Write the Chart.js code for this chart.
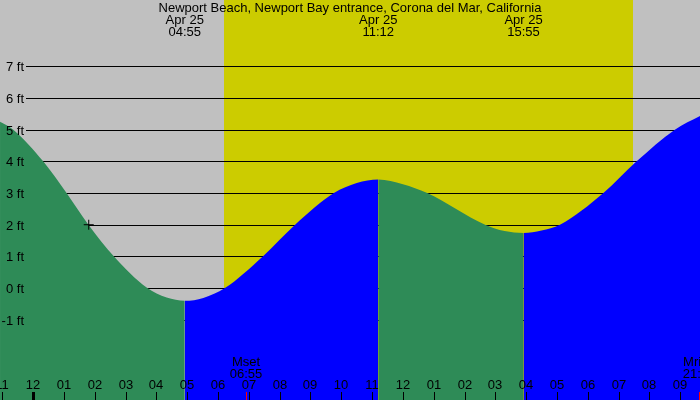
<!DOCTYPE html>
<html lang="en">
<head>
    <meta charset="UTF-8">
    <title>Newport Beach tide</title>
    <style>
        body { margin: 0; background: #c0c0c0; }
        canvas { display: block; }
    </style>
    <script src="https://cdn.jsdelivr.net/npm/chart.js"></script>
</head>
<body>
    <canvas id="tideChart" width="700" height="400"></canvas>

    <script>
        // Tide heights (hours from midnight Apr 25, feet)
        const tideHours = [-1.08, -0.65, 0.32, 1.08, 1.79, 2.62, 3.68, 4.33, 4.917, 5.52, 6.22, 7.45, 8.50, 9.76, 10.5, 11.2, 12.0, 12.79, 14.67, 15.3, 15.917, 16.5, 17.10, 18.51, 19.59, 20.83, 21.65];
        const tideFeet  = [5.25, 5.0, 4.0, 3.0, 2.0, 1.0, 0.02, -0.30, -0.40, -0.31, 0.0, 1.0, 2.0, 3.0, 3.32, 3.43, 3.28, 3.0, 2.0, 1.80, 1.74, 1.82, 2.0, 3.0, 4.0, 5.0, 5.43];

        // High / low labels along the top
        const extremeHours = [4.917, 11.2, 15.917];
        const extremeDates = ['Apr 25', 'Apr 25', 'Apr 25'];
        const extremeTimes = ['04:55', '11:12', '15:55'];

        // daylight band
        const sunrise = 6.19;
        const sunset = 19.47;

        // moon events
        const moonHours = [6.917, 21.617];
        const moonNames = ['Mset', 'Mrise'];
        const moonTimes = ['06:55', '21:37'];

        // current time marker
        const nowHour = 1.8;
        const nowFeet = 2.0;

        // axes
        const feetTicks = [-1, 0, 1, 2, 3, 4, 5, 6, 7];
        const hourTicks = [-1, 0, 1, 2, 3, 4, 5, 6, 7, 8, 9, 10, 11, 12, 13, 14, 15, 16, 17, 18, 19, 20, 21];
        const hourLabels = ['11', '12', '01', '02', '03', '04', '05', '06', '07', '08', '09', '10', '11', '12', '01', '02', '03', '04', '05', '06', '07', '08', '09'];

        const title = 'Newport Beach, Newport Bay entrance, Corona del Mar, California';

        const FONT = '13px "Liberation Sans", Arial, sans-serif';
        const GREEN = '#2e8b57';
        const BLUE = '#0000ff';

        const tidePlugin = {
            id: 'tideDecor',
            beforeDraw(chart) {
                const ctx = chart.ctx;
                const x = chart.scales.x;
                ctx.save();
                ctx.fillStyle = '#c0c0c0';
                ctx.fillRect(0, 0, chart.width, chart.height);
                ctx.fillStyle = '#cccc00';
                const x0 = Math.round(x.getPixelForValue(sunrise));
                const x1 = Math.round(x.getPixelForValue(sunset));
                ctx.fillRect(x0, 0, x1 - x0, chart.height);
                ctx.restore();
            },
            beforeDatasetsDraw(chart) {
                const ctx = chart.ctx;
                const y = chart.scales.y;
                ctx.save();
                ctx.strokeStyle = '#000';
                ctx.lineWidth = 1;
                feetTicks.forEach(v => {
                    const py = Math.round(y.getPixelForValue(v)) + 0.5;
                    ctx.beginPath();
                    ctx.moveTo(26, py);
                    ctx.lineTo(chart.width, py);
                    ctx.stroke();
                });
                ctx.restore();
            },
            afterDatasetsDraw(chart) {
                const ctx = chart.ctx;
                const x = chart.scales.x;
                const y = chart.scales.y;
                ctx.save();
                ctx.font = FONT;
                ctx.fillStyle = '#000';
                ctx.textBaseline = 'middle';

                // y labels
                ctx.textAlign = 'right';
                feetTicks.forEach(v => {
                    ctx.fillText(v + ' ft', 24, Math.round(y.getPixelForValue(v)) + 1);
                });

                // hour labels and ticks
                ctx.textAlign = 'center';
                hourTicks.forEach((h, i) => {
                    const px = Math.round(x.getPixelForValue(h));
                    ctx.fillText(hourLabels[i], px, 385);
                    ctx.fillRect(h === 0 ? px - 1 : px, 392, h === 0 ? 3 : 1, 8);
                });

                // moon events
                moonHours.forEach((h, i) => {
                    const px = Math.round(x.getPixelForValue(h));
                    ctx.fillStyle = '#000';
                    ctx.fillText(moonNames[i], px, 362);
                    ctx.fillText(moonTimes[i], px, 374);
                    ctx.fillStyle = '#ff0000';
                    ctx.fillRect(px, 392, 1, 8);
                });

                // title and extremes
                ctx.fillStyle = '#000';
                ctx.fillText(title, 350, 8);
                extremeHours.forEach((h, i) => {
                    const px = x.getPixelForValue(h);
                    ctx.fillText(extremeDates[i], px, 20);
                    ctx.fillText(extremeTimes[i], px, 32);
                });
                ctx.restore();
            }
        };

        const tidePoints = tideHours.map((h, i) => ({ x: h, y: tideFeet[i] }));

        const chart = new Chart(document.getElementById('tideChart'), {
            type: 'line',
            data: {
                datasets: [
                    {
                        type: 'scatter',
                        data: [{ x: nowHour, y: nowFeet }],
                        pointStyle: 'cross',
                        pointRadius: 5,
                        borderColor: '#000',
                        borderWidth: 1,
                        order: 0
                    },
                    {
                        data: tidePoints,
                        borderWidth: 0,
                        borderColor: 'rgba(0,0,0,0)',
                        backgroundColor: GREEN,
                        pointRadius: 0,
                        fill: 'start',
                        cubicInterpolationMode: 'monotone',
                        segment: {
                            backgroundColor: c => c.p1.parsed.y > c.p0.parsed.y ? BLUE : GREEN
                        },
                        order: 1
                    }
                ]
            },
            options: {
                responsive: false,
                animation: false,
                layout: { padding: 0, autoPadding: false },
                plugins: {
                    legend: { display: false },
                    tooltip: { enabled: false }
                },
                scales: {
                    x: { type: 'linear', min: -1.081, max: 21.646, display: false },
                    y: { type: 'linear', min: -3.53, max: 9.09, display: false }
                }
            },
            plugins: [tidePlugin]
        });
    </script>
</body>
</html>
